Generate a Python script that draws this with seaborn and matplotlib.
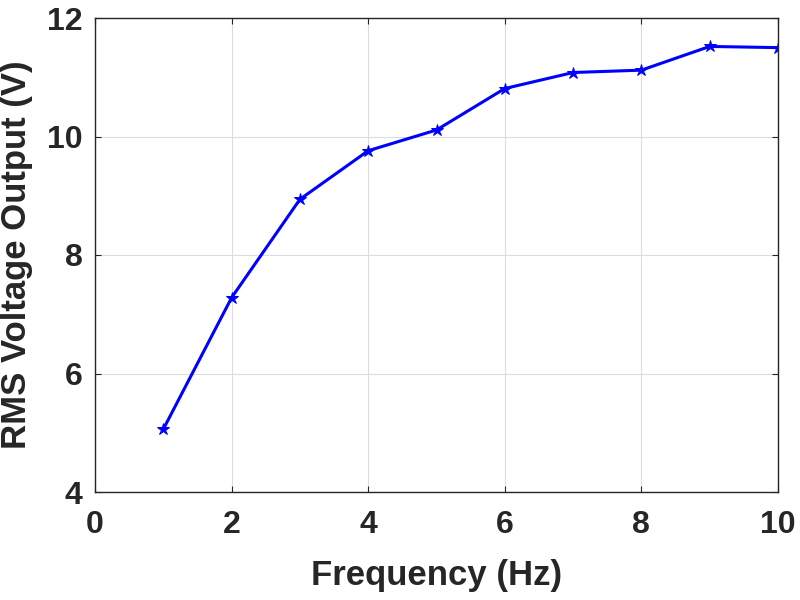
import matplotlib
matplotlib.use("Agg")
import matplotlib.pyplot as plt
import seaborn as sns
import pandas as pd

frequency = [1, 2, 3, 4, 5, 6, 7, 8, 9, 10]
rms_voltage = [5.06, 7.28, 8.94, 9.76, 10.11, 10.81, 11.08, 11.12, 11.52, 11.50]
x_ticks = [0, 2, 4, 6, 8, 10]
y_ticks = [4, 6, 8, 10, 12]

df = pd.DataFrame({"Frequency": frequency, "RMS": rms_voltage})

sns.set_style("white")
plt.rcParams['font.family'] = ['Liberation Sans', 'DejaVu Sans']
plt.rcParams['font.weight'] = 'bold'

fig = plt.figure(figsize=(8, 6), dpi=100)
ax = fig.add_axes([95/800, 1-492/600, (778-95)/800, (492-18)/600])

sns.lineplot(data=df, x="Frequency", y="RMS", ax=ax, color="#0000ff", linewidth=2.2,
             marker="*", markersize=9, markeredgecolor="#0000ff", markerfacecolor="#0000ff")

ax.set_xlim(0, 10)
ax.set_ylim(4, 12)
ax.set_xticks(x_ticks)
ax.set_yticks(y_ticks)
ax.grid(True, color="#dcdcdc", linewidth=0.8)
for s in ax.spines.values():
    s.set_visible(True)
    s.set_color("#262626")
    s.set_linewidth(1.0)
ax.tick_params(direction="in", length=4, width=0.8, colors="#262626", labelsize=23,
               top=True, right=True, bottom=True, left=True, labeltop=False, labelright=False)
ax.tick_params(axis="x", pad=13)
ax.tick_params(axis="y", pad=9)
for lbl in ax.get_xticklabels() + ax.get_yticklabels():
    lbl.set_fontweight("bold")
    lbl.set_color("#262626")
ax.set_xlabel("Frequency (Hz)", fontsize=25, fontweight="bold", color="#262626", labelpad=14)
ax.set_ylabel("RMS Voltage Output (V)", fontsize=25, fontweight="bold", color="#262626", labelpad=10)

fig.savefig("out.png", dpi=100)
